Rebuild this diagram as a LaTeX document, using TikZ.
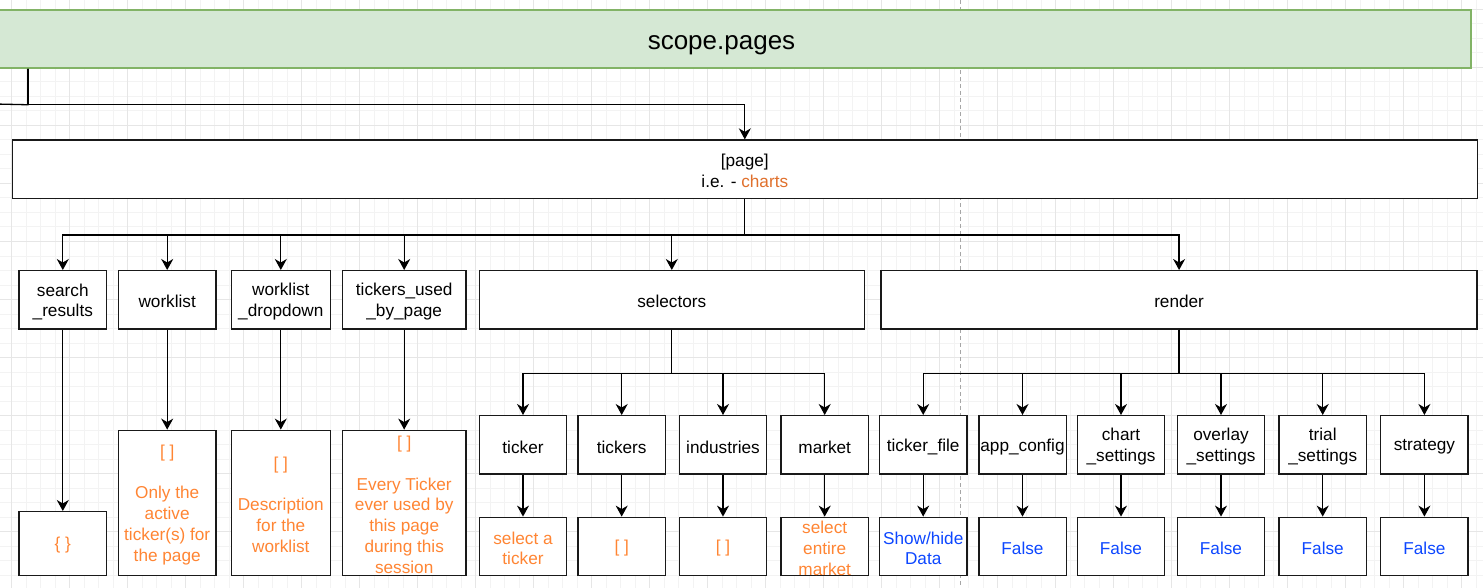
\documentclass[tikz,border=0pt]{standalone}
\usepackage{fontspec}
\setmainfont{Liberation Sans}
\usetikzlibrary{arrows.meta}
\definecolor{gfill}{HTML}{D5E8D4}
\definecolor{gline}{HTML}{82B366}
\definecolor{orng}{HTML}{FF8533}
\definecolor{dorng}{HTML}{E0702C}
\definecolor{blu}{HTML}{0D47FF}
\definecolor{gmin}{HTML}{F3F3F3}
\definecolor{gmaj}{HTML}{E6E6E6}
\newcommand\myfs{\fontsize{17.2}{20.7}\selectfont}
\tikzset{
  box/.style={draw=black!90, line width=1.4pt, fill=white, inner sep=0pt},
  lbl/.style={font=\myfs, align=center, inner sep=0pt, yshift=-2pt},
  txt/.style={label={[lbl]center:{#1}}},
  otxt/.style={label={[lbl,text=orng]center:{#1}}},
  btxt/.style={label={[lbl,text=blu]center:{#1}}},
  conn/.style={line width=1.3pt, draw=black},
  arr/.style={conn, -{Stealth[length=11pt,width=12pt,inset=3.5pt]}},
}
\begin{document}
\begin{tikzpicture}[x=1pt,y=-1pt]
\useasboundingbox (0,0) rectangle (1483,588);
\clip (0,0) rectangle (1483,588);
% grid
\foreach \k in {0,...,101} \draw[gmin,line width=1pt] ({11.7+14.5*\k},0) -- ({11.7+14.5*\k},588);
\foreach \k in {0,...,40} \draw[gmin,line width=1pt] (0,{9.5+14.5*\k}) -- (1483,{9.5+14.5*\k});
\foreach \k in {0,...,25} \draw[gmaj,line width=1pt] ({11.7+58*\k},0) -- ({11.7+58*\k},588);
\foreach \k in {0,...,10} \draw[gmaj,line width=1pt] (0,{9.5+58*\k}) -- (1483,{9.5+58*\k});
\draw[black!35, line width=0.8pt, dash pattern=on 4pt off 3pt] (960.5,0) -- (960.5,588);

% top
\node[draw=gline, fill=gfill, line width=1.5pt, minimum width=1499pt, minimum height=58pt, inner sep=0pt,
  label={[font=\fontsize{26}{31}\selectfont, inner sep=0pt, yshift=-6pt]center:scope.pages}] (top) at (721.5,39) {};
\coordinate (jx) at (28,0);
\coordinate (offL) at (-5,104);

\node[box, minimum width=1465pt, minimum height=58.3pt, txt={[page]\\i.e. - \textcolor{dorng}{charts}}] (page) at (744.8,169.2) {};

% row 1
\node[box, minimum width=87.7pt, minimum height=58.3pt, txt={search\\\_results}] (sr) at (62.8,299.85) {};
\node[box, minimum width=97.7pt, minimum height=58.3pt, txt={worklist}] (wl) at (167.2,299.85) {};
\node[box, minimum width=99pt, minimum height=58.3pt, txt={worklist\\\_dropdown}] (wd) at (280.8,299.85) {};
\node[box, minimum width=123.7pt, minimum height=58.3pt, txt={tickers\_used\\\_by\_page}] (tu) at (404.2,299.85) {};
\node[box, minimum width=385pt, minimum height=58.3pt, txt={selectors}] (sel) at (671.8,299.85) {};
\node[box, minimum width=596pt, minimum height=58.3pt, txt={render}] (ren) at (1179.1,299.85) {};

% left values
\node[box, minimum width=87.7pt, minimum height=63.6pt, otxt={\{ \}}] (srv) at (62.8,543.5) {};
\node[box, minimum width=97.7pt, minimum height=145pt, otxt={[ ]\\\mbox{}\\Only the\\active\\ticker(s) for\\the page}] (wlv) at (167.2,502.8) {};
\node[box, minimum width=99pt, minimum height=145pt, otxt={[ ]\\\mbox{}\\Description\\for the\\worklist}] (wdv) at (280.8,502.8) {};
\node[box, minimum width=123.7pt, minimum height=145pt, otxt={[ ]\\\mbox{}\\Every Ticker\\ever used by\\this page\\during this\\session}] (tuv) at (404.2,502.8) {};

% row 2
\foreach \n/\x/\t in {tk/523/ticker, tks/621.7/tickers, ind/723/industries, mkt/824.7/market,
  tf/923.2/ticker\_file, ac/1022.5/app\_config, cs/1121/chart\\\_settings, os/1221/overlay\\\_settings,
  ts/1322.7/trial\\\_settings, st/1424.4/strategy}
  \node[box, minimum width=87.4pt, minimum height=58.3pt, txt=\t] (\n) at (\x,444.85) {};

% row 3
\foreach \n/\x/\t in {tkv/523/select a\\ticker, tksv/621.7/[ ], indv/723/[ ], mktv/824.7/select\\entire\\market}
  \node[box, minimum width=87.4pt, minimum height=58pt, otxt=\t] (\n) at (\x,546.3) {};
\node[box, minimum width=87.4pt, minimum height=58pt, btxt={Show/hide\\Data}] (tfv) at (923.2,546.3) {};
\foreach \n/\x in {acv/1022.5, csv/1121, osv/1221, tsv/1322.7, stv/1424.4}
  \node[box, minimum width=87.4pt, minimum height=58pt, btxt=False] (\n) at (\x,546.3) {};

% connectors
\draw[arr] (top.south -| jx) -- ++(0,36) -| (page.north);
\draw[conn] (top.south -| jx) -- ++(0,36) -- (offL);
\foreach \c in {sr,wl,wd,tu,sel,ren} \draw[arr] (page.south) -- ++(0,36) -| (\c.north);
\foreach \c in {tk,tks,ind,mkt} \draw[arr] (sel.south) -- ++(0,43.7) -| (\c.north);
\foreach \c in {tf,ac,cs,os,ts,st} \draw[arr] (ren.south) -- ++(0,43.7) -| (\c.north);
\foreach \a/\b in {sr/srv, wl/wlv, wd/wdv, tu/tuv, tk/tkv, tks/tksv, ind/indv, mkt/mktv, tf/tfv, ac/acv, cs/csv, os/osv, ts/tsv, st/stv}
  \draw[arr] (\a.south) -- (\b.north);
\end{tikzpicture}
\end{document}
